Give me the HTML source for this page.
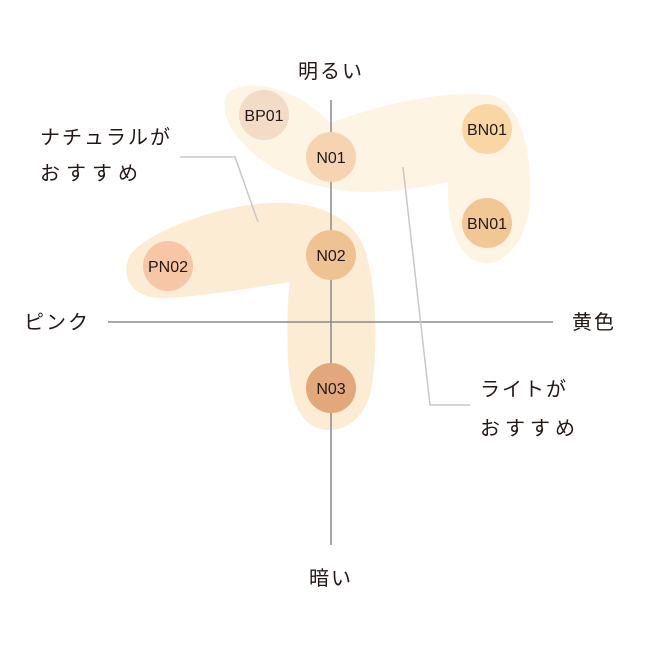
<!DOCTYPE html>
<html><head><meta charset="utf-8"><style>
html,body{margin:0;padding:0;background:#fff;}
svg{display:block;}
text{font-family:"Liberation Sans","Noto Sans CJK JP",sans-serif;fill:#231815;}
</style></head><body>
<svg width="653" height="647" viewBox="0 0 653 647" xmlns="http://www.w3.org/2000/svg">
<path d="M232,90 C255,78 300,90 330,123 C380,105 440,90 490,95 C520,100 532,150 530,200 C528,240 505,265 485,263 C455,260 447,220 448,182 C410,190 370,195 340,190 C300,185 260,165 240,140 C222,120 220,97 232,90 Z" fill="#fdf4e4"/>
<path d="M130,255 C150,230 220,205 270,203 C320,200 355,220 365,250 C378,290 378,360 370,395 C362,420 345,430 330,430 C300,430 290,400 288,360 C287,330 287,300 290,282 C240,290 190,298 160,298 C130,297 120,275 130,255 Z" fill="#fcecd4"/>
<line x1="108" y1="322" x2="553" y2="322" stroke="#8a8a8a" stroke-width="1.5"/>
<line x1="331" y1="100" x2="331" y2="545" stroke="#8a8a8a" stroke-width="1.5"/>
<polyline points="180,157 235,157 258,222" fill="none" stroke="#c8c8c8" stroke-width="1.5"/>
<polyline points="403,167 430,405 470,405" fill="none" stroke="#c8c8c8" stroke-width="1.5"/>
<g font-size="16" text-anchor="middle">
<circle cx="264" cy="115" r="25" fill="#f2dcc6"/><text x="264" y="121">BP01</text>
<circle cx="331" cy="157" r="25" fill="#f6d4b2"/><text x="331" y="163">N01</text>
<circle cx="487" cy="129" r="25" fill="#f8d7a4"/><text x="487" y="135">BN01</text>
<circle cx="487" cy="223" r="25" fill="#f1c894"/><text x="487" y="229">BN01</text>
<circle cx="168" cy="266" r="25" fill="#f6c6a6"/><text x="168" y="272">PN02</text>
<circle cx="331" cy="255" r="25" fill="#efc294"/><text x="331" y="261">N02</text>
<circle cx="331" cy="388" r="25" fill="#e2a77b"/><text x="331" y="394">N03</text>
</g>
<g font-size="20" letter-spacing="2">
<text x="331" y="78" text-anchor="middle">明るい</text>
<text x="331" y="585" text-anchor="middle">暗い</text>
<text x="24" y="329">ピンク</text>
<text x="572" y="329">黄色</text>
<text x="40" y="144">ナチュラルが</text>
<text x="40" y="180" letter-spacing="6">おすすめ</text>
<text x="480" y="396">ライトが</text>
<text x="480" y="435" letter-spacing="5">おすすめ</text>
</g>
</svg>
</body></html>
